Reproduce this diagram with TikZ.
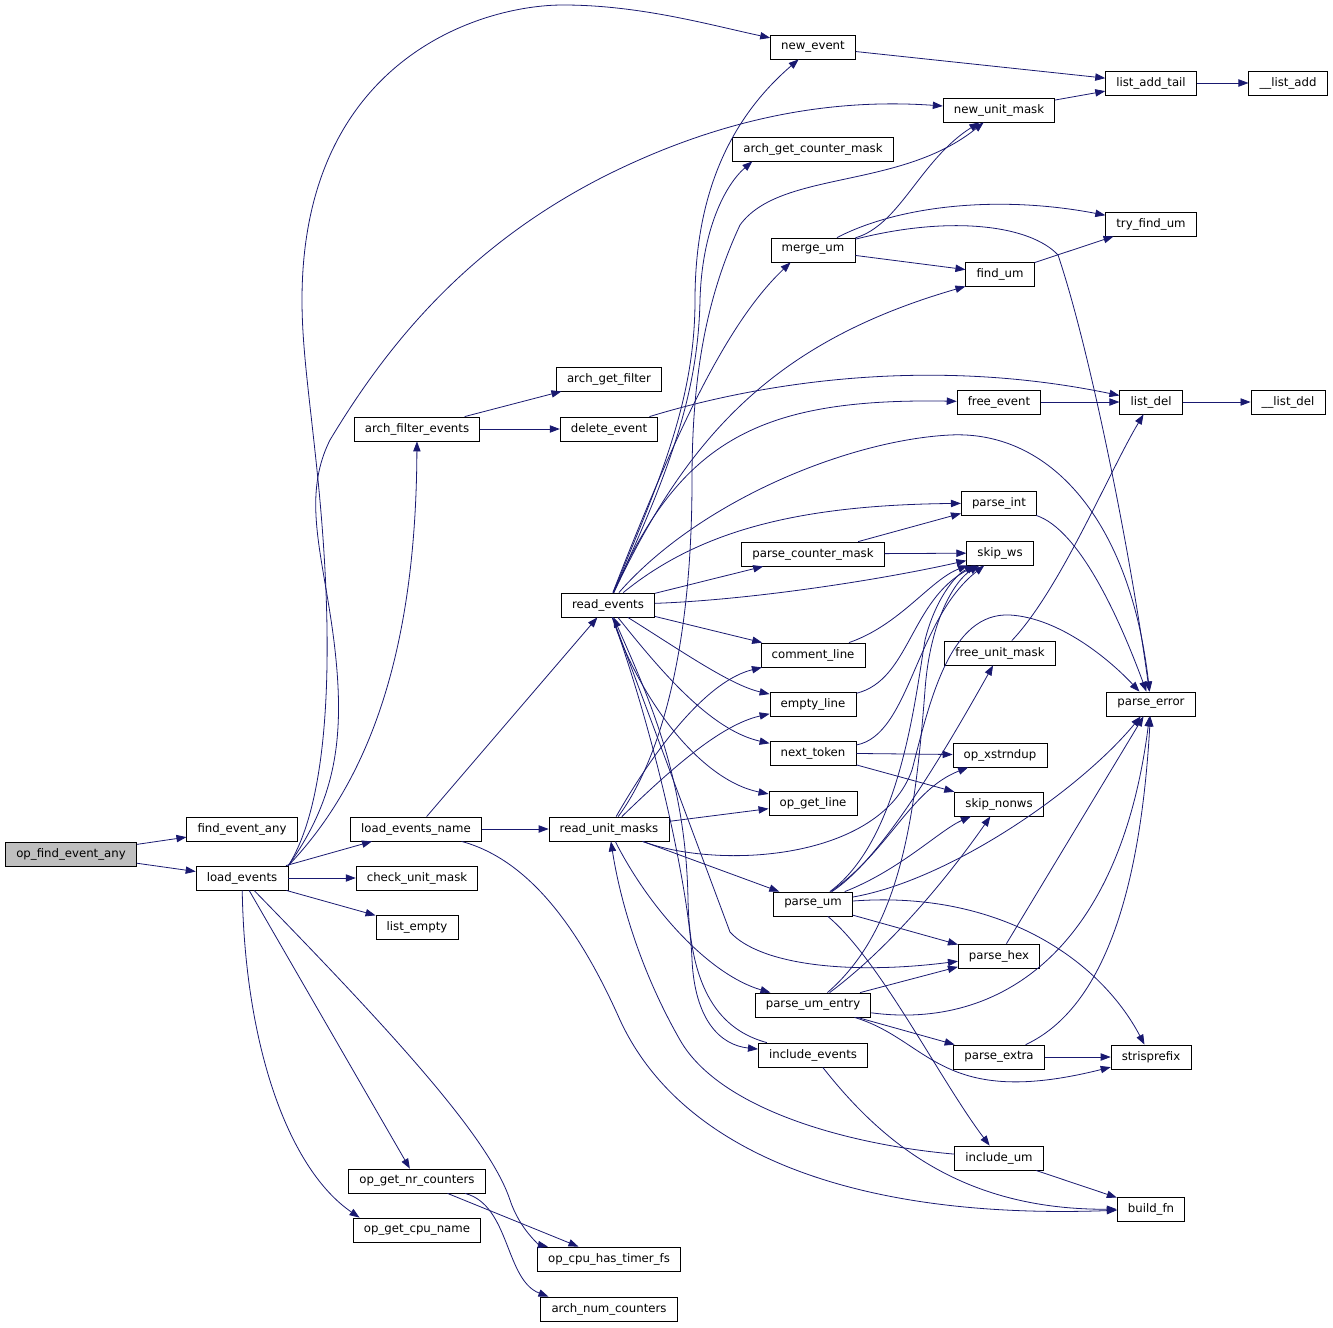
\documentclass[tikz,border=0pt]{standalone}
\usepackage{fontspec}
\newfontfamily\dejavu{DejaVu Sans}
\usetikzlibrary{arrows.meta}
\definecolor{midnight}{HTML}{191970}

\begin{document}
\begin{tikzpicture}[x=0.75pt,y=-0.75pt,
		func/.style={draw,fill=white,font=\dejavu\fontsize{8.8pt}{10pt}\selectfont,minimum height=18pt,inner xsep=8pt,inner ysep=0pt,line width=0.6pt},
		root/.style={func,fill=black!25},
		call/.style={draw=midnight,line width=0.6pt,-{Triangle[length=7.5pt,width=5.5pt]}}]
		\useasboundingbox (0,0) rectangle (1333,1327);
		% functions, column by column
		\node[root] (opfind) at (71,854) {op\_find\_event\_any};
		\node[func] (findany) at (242,829) {find\_event\_any};
		\node[func] (loadev) at (242,878) {load\_events};
		\node[func] (archfilter) at (417,429) {arch\_filter\_events};
		\node[func] (loadname) at (416,829) {load\_events\_name};
		\node[func] (checkum) at (417,878) {check\_unit\_mask};
		\node[func] (listempty) at (417,927) {list\_empty};
		\node[func] (nrcount) at (417,1181) {op\_get\_nr\_counters};
		\node[func] (cpuname) at (417,1230) {op\_get\_cpu\_name};
		\node[func] (getfilter) at (609,379) {arch\_get\_filter};
		\node[func] (delev) at (609,429) {delete\_event};
		\node[func] (readev) at (608,605) {read\_events};
		\node[func] (readum) at (609,829) {read\_unit\_masks};
		\node[func] (timerfs) at (609,1259) {op\_cpu\_has\_timer\_fs};
		\node[func] (numcount) at (609,1309) {arch\_num\_counters};
		\node[func] (newev) at (813,47) {new\_event};
		\node[func] (countmask) at (813,149) {arch\_get\_counter\_mask};
		\node[func] (mergeum) at (813,250) {merge\_um};
		\node[func] (pcmask) at (813,554) {parse\_counter\_mask};
		\node[func] (commentl) at (813,655) {comment\_line};
		\node[func] (emptyl) at (813,704) {empty\_line};
		\node[func] (nexttok) at (813,753) {next\_token};
		\node[func] (getline) at (813,803) {op\_get\_line};
		\node[func] (parseum) at (813,904) {parse\_um};
		\node[func] (umentry) at (813,1005) {parse\_um\_entry};
		\node[func] (inclev) at (813,1055) {include\_events};
		\node[func] (newum) at (999,110) {new\_unit\_mask};
		\node[func] (findum) at (1000,274) {find\_um};
		\node[func] (freeev) at (999,402) {free\_event};
		\node[func] (pint) at (999,503) {parse\_int};
		\node[func] (skipws) at (1000,553) {skip\_ws};
		\node[func] (freeum) at (1000,653) {free\_unit\_mask};
		\node[func] (xstrndup) at (1000,755) {op\_xstrndup};
		\node[func] (skipnon) at (999,804) {skip\_nonws};
		\node[func] (phex) at (999,956) {parse\_hex};
		\node[func] (pextra) at (999,1057) {parse\_extra};
		\node[func] (inclum) at (999,1158) {include\_um};
		\node[func] (addtail) at (1151,83) {list\_add\_tail};
		\node[func] (tryfind) at (1151,224) {try\_find\_um};
		\node[func] (listdel) at (1151,402) {list\_del};
		\node[func] (perror) at (1151,704) {parse\_error};
		\node[func] (prefix) at (1151,1057) {strisprefix};
		\node[func] (buildfn) at (1151,1209) {build\_fn};
		\node[func] (listadd) at (1288,83) {\_\_list\_add};
		\node[func] (listdelu) at (1288,402) {\_\_list\_del};
		% op_find_event_any
		\draw[call] (opfind) -- (findany);
		\draw[call] (opfind) -- (loadev);
		% load_events
		\draw[call] (loadev.north east) .. controls (330,800) and (335,650) .. (318,480) .. controls (310,400) and (302,350) .. (302,300) .. controls (302,60) and (480,5) .. (563,5) .. controls (640,5) and (710,25) .. (newev);
		\draw[call] (loadev.north east) .. controls (335,800) and (345,740) .. (335,650) .. controls (325,560) and (300,500) .. (330,440) .. controls (390,340) and (470,245) .. (603,177) .. controls (720,118) and (830,98) .. (newum);
		\draw[call] (loadev.north east) .. controls (370,780) and (416,650) .. (archfilter);
		\draw[call] (loadev) -- (loadname);
		\draw[call] (loadev) -- (checkum);
		\draw[call] (loadev) -- (listempty);
		\draw[call] (loadev) -- (nrcount);
		\draw[call] (loadev) .. controls (245,1050) and (290,1170) .. ([xshift=5pt]cpuname.north west);
		\draw[call] (loadev) .. controls (400,1040) and (490,1140) .. (510,1200) .. controls (520,1230) and (540,1245) .. (timerfs);
		% op_get_nr_counters
		\draw[call] (nrcount) -- (timerfs);
		\draw[call] (nrcount) .. controls (510,1205) and (505,1280) .. ([xshift=6pt]numcount.north west);
		% arch_filter_events
		\draw[call] (archfilter) -- (getfilter);
		\draw[call] (archfilter) -- (delev);
		\draw[call] (delev) .. controls (720,395) and (900,350) .. (listdel);
		% load_events_name
		\draw[call] (loadname) -- (readev);
		\draw[call] (loadname) -- (readum);
		\draw[call] (loadname) .. controls (530,860) and (580,930) .. (620,1020) .. controls (680,1150) and (850,1220) .. (buildfn);
		% read_events
		\draw[call] (readev) .. controls (660,480) and (695,400) .. (695,300) .. controls (695,180) and (740,110) .. (newev);
		\draw[call] (readev) .. controls (665,480) and (698,400) .. (700,300) .. controls (702,230) and (725,185) .. ([xshift=15pt]countmask.south west);
		\draw[call] (readev) .. controls (680,420) and (730,320) .. ([xshift=15pt]mergeum.south west);
		\draw[call] (readev) .. controls (690,430) and (780,340) .. (findum.south west);
		\draw[call] (readev) .. controls (680,440) and (760,398) .. (freeev);
		\draw[call] (readev) .. controls (700,500) and (850,440) .. (950,435) .. controls (1050,430) and (1130,520) .. (perror);
		\draw[call] (readev) .. controls (700,530) and (800,505) .. (pint);
		\draw[call] (readev) -- (pcmask);
		\draw[call] (readev) .. controls (750,600) and (880,580) .. (skipws);
		\draw[call] (readev) -- (commentl);
		\draw[call] (readev) .. controls (680,650) and (730,685) .. (emptyl);
		\draw[call] (readev) .. controls (660,670) and (710,730) .. (nexttok);
		\draw[call] (readev) .. controls (640,700) and (700,780) .. (getline);
		\draw[call] (readev) -- (730,932) .. controls (760,965) and (850,975) .. (phex);
		\draw[call] (readev) .. controls (660,750) and (690,900) .. (692,960) .. controls (695,1020) and (720,1045) .. (inclev);
		% read_unit_masks
		\draw[call] (readum) .. controls (660,760) and (692,650) .. (692,480) .. controls (692,380) and (705,300) .. (740,225) .. controls (780,170) and (900,190) .. (newum);
		\draw[call] (readum) .. controls (660,740) and (710,680) .. (commentl);
		\draw[call] (readum) .. controls (670,770) and (720,725) .. (emptyl);
		\draw[call] (readum) -- (getline);
		\draw[call] (readum) -- (parseum);
		\draw[call] (readum) .. controls (650,910) and (710,975) .. (umentry);
		\draw[call] (readum) .. controls (720,870) and (880,860) .. (912,770) .. controls (930,700) and (950,612) .. (1010,615) .. controls (1060,618) and (1110,660) .. (perror);
		% merge_um
		\draw[call] (mergeum) .. controls (900,225) and (920,160) .. (newum);
		\draw[call] (mergeum) .. controls (900,205) and (1000,195) .. (tryfind);
		\draw[call] (mergeum) -- (findum);
		\draw[call] (mergeum) .. controls (950,215) and (1030,225) .. (1058,255) .. controls (1090,350) and (1130,550) .. (perror);
		% list helpers
		\draw[call] (findum) -- (tryfind);
		\draw[call] (newev) -- (addtail);
		\draw[call] (newum) -- (addtail);
		\draw[call] (addtail) -- (listadd);
		\draw[call] (freeev) -- (listdel);
		\draw[call] (listdel) -- (listdelu);
		% parse_counter_mask, parse_int
		\draw[call] (pcmask) -- (pint);
		\draw[call] (pcmask) -- (skipws);
		\draw[call] (pint) .. controls (1080,530) and (1120,620) .. (perror);
		% comment_line, empty_line, next_token
		\draw[call] (commentl) .. controls (900,625) and (930,580) .. (skipws);
		\draw[call] (emptyl) .. controls (910,680) and (910,600) .. (skipws);
		\draw[call] (nexttok) .. controls (910,735) and (915,620) .. (skipws);
		\draw[call] (nexttok) -- (xstrndup);
		\draw[call] (nexttok) -- (skipnon);
		% parse_um
		\draw[call] (parseum) .. controls (900,840) and (915,700) .. (925,640) .. controls (935,600) and (955,575) .. (skipws);
		\draw[call] (parseum) .. controls (890,850) and (910,790) .. (xstrndup);
		\draw[call] (parseum) .. controls (880,860) and (940,760) .. (freeum);
		\draw[call] (parseum) .. controls (900,870) and (940,830) .. (skipnon);
		\draw[call] (parseum) .. controls (950,880) and (1080,790) .. (perror);
		\draw[call] (parseum) -- (phex);
		\draw[call] (parseum) .. controls (1000,890) and (1100,960) .. (prefix);
		\draw[call] (parseum) .. controls (880,960) and (940,1080) .. (inclum);
		% parse_um_entry
		\draw[call] (umentry) -- (phex);
		\draw[call] (umentry) -- (pextra);
		\draw[call] (umentry) .. controls (900,930) and (915,820) .. (925,690) .. controls (930,620) and (955,580) .. (skipws);
		\draw[call] (umentry) .. controls (900,940) and (960,860) .. (skipnon);
		\draw[call] (umentry) .. controls (1000,1030) and (1120,950) .. (perror);
		\draw[call] (umentry) .. controls (930,1040) and (940,1110) .. (prefix);
		% parse_extra, parse_hex, free_unit_mask
		\draw[call] (pextra) -- (prefix);
		\draw[call] (pextra) .. controls (1100,1010) and (1140,900) .. (perror);
		\draw[call] (phex) -- (perror);
		\draw[call] (freeum) .. controls (1060,590) and (1110,470) .. (listdel);
		% include_events, include_um
		\draw[call] (inclev) .. controls (720,1030) and (690,990) .. (688,900) .. controls (686,780) and (650,700) .. (readev);
		\draw[call] (inclev) .. controls (880,1140) and (960,1210) .. (buildfn);
		\draw[call] (inclum) .. controls (850,1145) and (720,1110) .. (680,1040) .. controls (640,970) and (620,900) .. (readum);
		\draw[call] (inclum) -- (buildfn);
	\end{tikzpicture}
\end{document}
